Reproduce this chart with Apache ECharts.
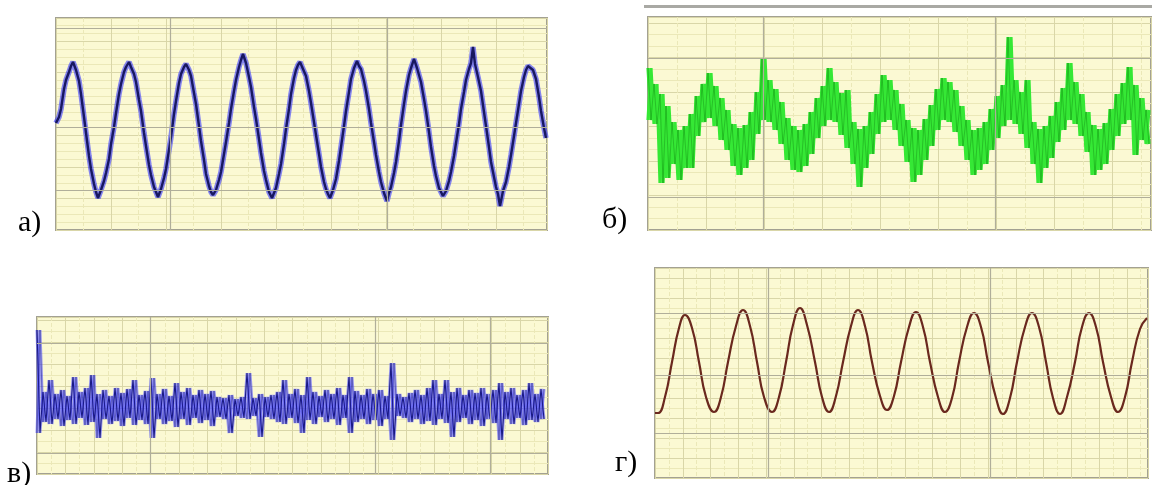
<!DOCTYPE html>
<html>
<head>
<meta charset="utf-8">
<script src="https://cdn.jsdelivr.net/npm/echarts@6/dist/echarts.min.js"></script>
<style>
  html, body { margin: 0; padding: 0; background: #ffffff; }
  #chart { width: 1158px; height: 485px; }
</style>
</head>
<body>
<div id="chart"></div>
<script>
// Oscillograms: (а) noisy sine, (б) sine buried in wideband noise,
// (в) pure noise, (г) clean sine. Time in samples, amplitude in screen units.

const panelLabels = ['а)', 'б)', 'в)', 'г)'];

// (а) sine with light noise: [time, amplitude]
const waveA = [
  [0,107],[3,113],[5,121],[8,141],[10,150],[13,158],[15,164],[17,168],[20,160],[23,149],[25,136],[28,113],
  [30,97],[33,74],[35,61],[38,46],[40,38],[42,32],[45,40],[48,49],[50,57],[53,71],[55,86],[58,103],
  [60,117],[63,136],[65,146],[68,158],[70,163],[73,168],[75,163],[78,156],[80,148],[83,130],[85,119],
  [88,97],[90,84],[93,65],[95,55],[98,43],[100,38],[102,33],[105,41],[108,52],[110,61],[113,80],[115,93],
  [118,116],[120,129],[123,147],[125,156],[128,163],[130,166],[133,160],[135,154],[138,137],[140,126],
  [143,104],[145,89],[148,70],[150,56],[153,44],[155,38],[157,35],[160,40],[163,50],[165,58],[168,76],
  [170,88],[173,107],[175,121],[178,139],[180,150],[183,163],[185,170],[187,176],[190,167],[193,153],
  [195,143],[198,123],[200,111],[203,91],[205,77],[208,59],[210,50],[213,38],[216,32],[220,42],[223,56],
  [225,66],[228,86],[230,101],[233,121],[235,136],[238,152],[240,160],[242,165],[244,168],[247,161],
  [250,154],[253,139],[255,127],[258,108],[260,95],[263,76],[265,63],[268,48],[270,41],[272,36],[274,32],
  [277,40],[280,51],[283,69],[285,83],[288,104],[290,119],[293,138],[295,151],[298,162],[301,169],
  [303,164],[305,161],[308,149],[310,139],[313,121],[315,107],[318,88],[320,75],[323,58],[325,48],
  [328,37],[331,29],[333,37],[335,43],[338,57],[340,68],[343,89],[345,105],[348,126],[350,139],
  [353,155],[355,162],[358,171],[361,162],[365,148],[368,131],[370,119],[373,98],[375,83],[378,64],
  [380,54],[383,42],[385,38],[387,34],[390,39],[393,49],[395,58],[398,74],[400,87],[403,106],[405,121],
  [408,138],[410,150],[413,161],[415,167],[417,183],[419,166],[422,153],[425,139],[428,118],[430,104],
  [433,83],[435,68],[438,53],[440,43],[442,36],[444,24],[447,39],[450,48],[453,63],[455,75],[458,94],
  [460,107],[463,126],[465,139],[468,153],[470,160],[472,164],[474,166],[477,160],[480,151],[483,133],
  [485,119],[488,102],[490,92]
];

// (б) noisy trace: upper and lower excursions, one pair every 6 samples
const waveBHigh = [
  162,146,136,124,108,100,104,116,134,146,157,144,132,120,106,102,105,118,138,172,
  150,141,128,112,104,100,106,118,132,144,162,148,137,140,108,101,104,118,136,155,
  150,140,126,110,102,100,111,125,141,152,148,140,124,110,100,102,108,121,134,145,
  193,150,138,150,108,101,104,114,128,142,167,148,136,118,105,101,107,121,136,147,
  163,145,132,120
];
const waveBLow = [
  110,106,47,52,66,50,62,62,94,108,112,104,90,80,64,55,62,70,96,110,
  108,100,86,70,60,58,64,76,92,104,110,108,95,82,66,43,62,76,96,108,
  110,100,84,68,48,55,70,84,100,110,108,98,84,70,55,60,66,80,92,104,
  110,106,96,82,66,47,62,72,88,100,110,106,94,78,55,60,66,80,94,106,
  110,75,90,86
];

// (в) noise: upper and lower excursions, one pair every 6 samples
const waveCHigh = [
  144,82,94,80,84,78,97,82,86,99,80,84,78,86,81,85,94,79,83,96,
  80,85,78,91,82,86,79,84,80,83,77,76,79,75,77,101,76,80,77,79,
  82,94,80,85,79,97,82,78,84,80,86,79,97,83,79,85,80,84,78,111,
  80,77,81,84,79,86,94,80,94,82,86,79,84,81,86,80,84,91,82,86,
  79,84,91,80,85
];
const waveCLow = [
  41,52,50,55,48,54,50,56,49,52,36,55,50,53,48,56,49,54,50,36,
  55,50,53,47,55,49,56,51,54,48,57,55,41,58,56,55,58,37,57,55,
  52,50,56,51,41,54,50,57,52,55,49,56,41,52,55,50,54,48,55,34,
  58,56,52,55,50,53,49,55,51,37,52,56,50,54,48,55,51,34,55,50,
  56,49,54,52,55
];

// (г) clean sine: [time, amplitude]
const waveD = [
  [0,65],[3,65],[10,81],[17,116],[24,150],[30,163],[37,150],[44,116],[51,81],[59,66],
  [66,81],[73,116],[81,152],[88,168],[95,152],[102,116],[109,81],[117,66],
  [124,81],[131,116],[138,153],[145,170],[152,153],[160,116],[167,81],[174,66],
  [181,82],[188,116],[196,152],[203,168],[210,152],[217,116],[225,82],[232,68],
  [239,82],[246,116],[254,151],[261,166],[268,151],[275,116],[283,81],[290,66],
  [297,80],[304,116],[312,151],[319,165],[326,151],[333,116],[341,80],[348,64],
  [355,80],[362,116],[370,151],[377,165],[384,151],[391,116],[398,80],[405,64],
  [412,81],[420,116],[427,151],[434,165],[441,151],[448,116],[456,81],[463,66],
  [470,81],[477,116],[485,149],[492,160]
];

// interleave two excursion lists into one zig-zag trace
function zigzag(first, second, step) {
  const pts = [];
  first.forEach((v, i) => {
    pts.push([i * step, v]);
    pts.push([i * step + step / 2, second[i]]);
  });
  return pts;
}

const paper = '#fbf9d3';
const frame = '#a3a192';
const fine = '#ebe8b8';
const coarse = '#d9d6a8';
const bold = '#b0ae9a';

function axisX(grid, max, interval) {
  return {
    type: 'value', gridIndex: grid, min: 0, max: max, interval: interval,
    axisLine: { show: false }, axisTick: { show: false }, axisLabel: { show: false },
    splitLine: { show: true, lineStyle: { color: coarse, width: 1 } },
    minorTick: { show: false, splitNumber: 2 },
    minorSplitLine: { show: true, lineStyle: { color: fine, width: 1, type: 'dashed' } }
  };
}
function axisY(grid, max, interval, minorN) {
  return {
    type: 'value', gridIndex: grid, min: 0, max: max, interval: interval,
    axisLine: { show: false }, axisTick: { show: false }, axisLabel: { show: false },
    splitLine: { show: true, lineStyle: { color: coarse, width: 1 } },
    minorTick: { show: false, splitNumber: minorN },
    minorSplitLine: { show: true, lineStyle: { color: fine, width: 1 } }
  };
}
function boldLines(grid, xs, ys) {
  return {
    type: 'line', xAxisIndex: grid, yAxisIndex: grid, data: [], silent: true, z: 1,
    markLine: {
      silent: true, symbol: ['none', 'none'], animation: false,
      label: { show: false },
      lineStyle: { color: bold, width: 1.2, type: 'solid' },
      data: xs.map(v => ({ xAxis: v })).concat(ys.map(v => ({ yAxis: v })))
    }
  };
}
function gridBox(left, top, width, height) {
  return { left, top, width, height, show: true, backgroundColor: paper,
           borderColor: frame, borderWidth: 2, containLabel: false };
}
function trace(grid, data, color, width, z, smooth) {
  return { type: 'line', xAxisIndex: grid, yAxisIndex: grid, data: data, showSymbol: false,
           smooth: smooth || false, z: z, silent: true, lineStyle: { color: color, width: width } };
}

const labelFont = '30px "Liberation Serif", "DejaVu Serif", serif';

const traceB1 = zigzag(waveBHigh, waveBLow, 6);
const traceB2 = zigzag(waveBLow, waveBHigh, 6);
const traceC1 = zigzag(waveCHigh, waveCLow, 6);
const traceC2 = zigzag(waveCLow, waveCHigh, 6);

const option = {
  animation: false,
  backgroundColor: '#ffffff',
  grid: [
    gridBox(56, 18, 491, 212),
    gridBox(648, 17, 503, 213),
    gridBox(37, 317, 511, 157),
    gridBox(655, 268, 493, 210)
  ],
  xAxis: [
    axisX(0, 491, 55),
    axisX(1, 503, 58),
    axisX(2, 511, 28.4),
    axisX(3, 493, 27.75)
  ],
  yAxis: [
    axisY(0, 212, 31.5, 4),
    axisY(1, 213, 34.5, 3),
    axisY(2, 157, 22, 2),
    axisY(3, 210, 20, 2)
  ],
  graphic: [
    { type: 'rect', shape: { x: 644, y: 5, width: 508, height: 3 }, style: { fill: '#a9a9a4' }, silent: true },
    { type: 'text', left: 18, top: 208, style: { text: panelLabels[0], font: labelFont, fill: '#000' } },
    { type: 'text', left: 602, top: 205, style: { text: panelLabels[1], font: labelFont, fill: '#000' } },
    { type: 'text', left: 7, top: 459, style: { text: panelLabels[2], font: labelFont, fill: '#000' } },
    { type: 'text', left: 615, top: 448, style: { text: panelLabels[3], font: labelFont, fill: '#000' } }
  ],
  series: [
    boldLines(0, [114, 331], [40, 103, 202]),
    boldLines(1, [115, 347], [33, 172]),
    boldLines(2, [113, 338, 453], [21, 131]),
    boldLines(3, [113, 335], [45, 103, 165]),
    // (а) blue halo under a dark core
    trace(0, waveA, 'rgba(55,55,255,0.6)', 5.5, 3),
    trace(0, waveA, '#181860', 2.4, 4),
    // (б) two interleaved passes fill the band, a faint dark pass adds texture
    trace(1, traceB1, '#2fe22f', 3.2, 3),
    trace(1, traceB2, '#35e835', 3.2, 3),
    trace(1, traceB1, 'rgba(15,120,15,0.45)', 0.8, 4),
    // (в)
    trace(2, traceC1, 'rgba(75,75,255,0.55)', 3, 3),
    trace(2, traceC2, 'rgba(75,75,255,0.55)', 3, 3),
    trace(2, traceC1, '#1a1a86', 1.1, 4),
    trace(2, traceC2, 'rgba(30,30,150,0.6)', 0.8, 4),
    // (г)
    trace(3, waveD, '#6a281e', 2.2, 3, true)
  ]
};

const chart = echarts.init(document.getElementById('chart'), null, { renderer: 'canvas' });
chart.setOption(option);
</script>
</body>
</html>
